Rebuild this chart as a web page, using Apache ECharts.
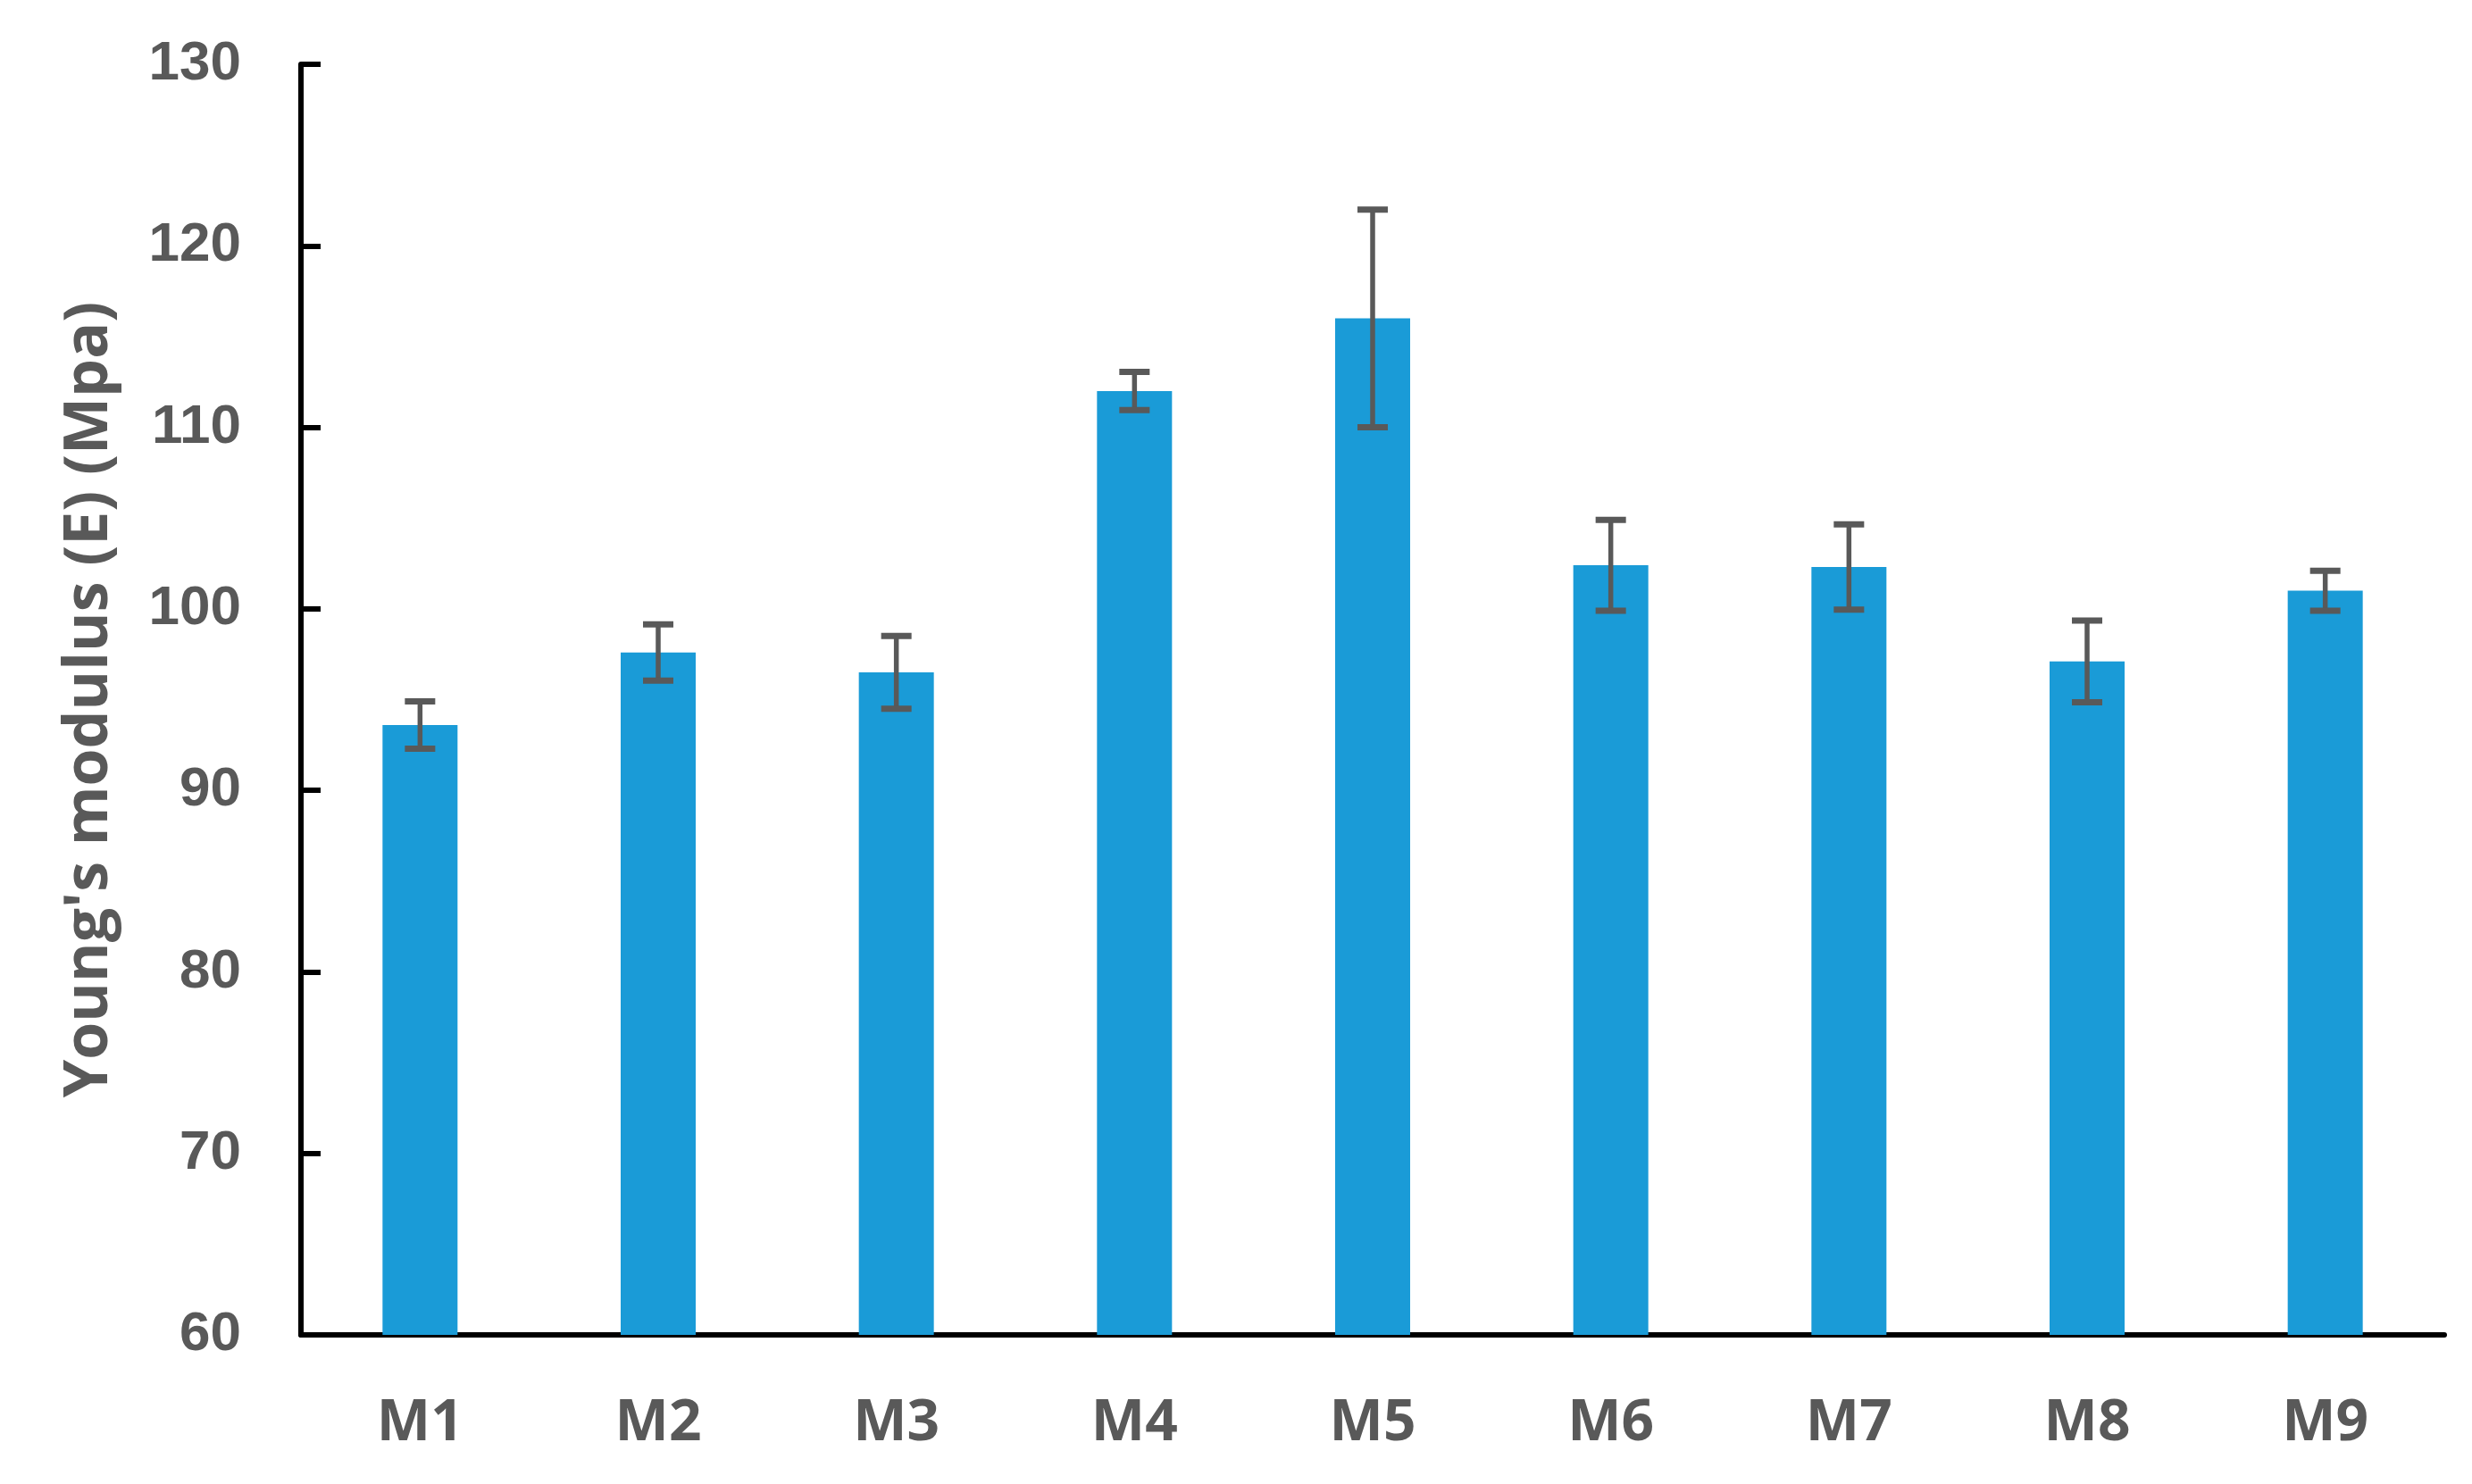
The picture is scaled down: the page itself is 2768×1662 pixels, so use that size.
<!DOCTYPE html>
<html>
<head>
<meta charset="utf-8">
<script src="https://cdn.jsdelivr.net/npm/echarts@6/dist/echarts.min.js"></script>
<style>
html,body{margin:0;padding:0;background:#fff;}
#chart{width:2768px;height:1662px;}
</style>
</head>
<body>
<div id="chart"></div>
<script>
var categories = ['M1','M2','M3','M4','M5','M6','M7','M8','M9'];
var values = [93.6, 97.6, 96.5, 112.0, 116.0, 102.4, 102.3, 97.1, 101.0];
var errors = [1.3, 1.55, 2.0, 1.05, 6.0, 2.5, 2.35, 2.25, 1.1];
var yTicks = [60, 70, 80, 90, 100, 110, 120, 130];
var yTitle = "Young's modulus (E) (Mpa)";

var errData = values.map(function (v, i) { return [i, v - errors[i], v + errors[i]]; });

var chart = echarts.init(document.getElementById('chart'));
chart.setOption({
  backgroundColor: '#ffffff',
  animation: false,
  grid: { left: 337, right: 31, top: 72, bottom: 167 },
  xAxis: {
    type: 'category',
    data: categories,
    axisLine: { lineStyle: { color: '#000000', width: 6 } },
    axisTick: { show: false },
    axisLabel: {
      color: '#595959', fontFamily: 'Open Sans', fontWeight: 'bold', fontSize: 64, margin: 68
    }
  },
  yAxis: {
    type: 'value',
    min: yTicks[0],
    max: yTicks[yTicks.length - 1],
    interval: 10,
    name: yTitle,
    nameLocation: 'middle',
    nameGap: 202,
    nameTextStyle: {
      color: '#595959', fontFamily: 'Open Sans', fontWeight: 'bold', fontSize: 68
    },
    splitLine: { show: false },
    axisLine: { show: true, lineStyle: { color: '#000000', width: 6 } },
    axisTick: { show: true, inside: true, length: 22, lineStyle: { color: '#000000', width: 6 } },
    axisLabel: {
      color: '#595959', fontFamily: 'Liberation Sans', fontWeight: 'bold', fontSize: 62, margin: 67
    }
  },
  series: [
    {
      type: 'bar',
      data: values,
      barWidth: 84,
      itemStyle: { color: '#1A9BD7' },
      z: 2
    },
    {
      type: 'custom',
      data: errData,
      z: 5,
      renderItem: function (params, api) {
        var x = api.value(0);
        var lo = api.coord([x, api.value(1)]);
        var hi = api.coord([x, api.value(2)]);
        var hw = 17;
        var style = { stroke: '#595959', lineWidth: 5.5 };
        return {
          type: 'group',
          children: [
            { type: 'line', shape: { x1: lo[0], y1: lo[1], x2: hi[0], y2: hi[1] }, style: style },
            { type: 'line', shape: { x1: hi[0] - hw, y1: hi[1], x2: hi[0] + hw, y2: hi[1] }, style: { stroke: '#595959', lineWidth: 7 } },
            { type: 'line', shape: { x1: lo[0] - hw, y1: lo[1], x2: lo[0] + hw, y2: lo[1] }, style: { stroke: '#595959', lineWidth: 7 } }
          ]
        };
      }
    }
  ]
});
</script>
</body>
</html>
